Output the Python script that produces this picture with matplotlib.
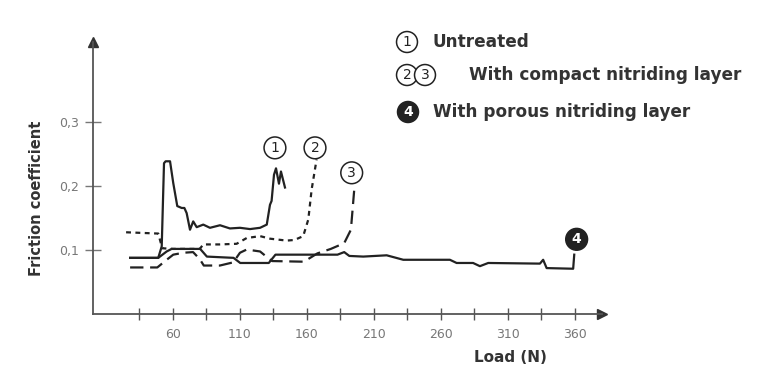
import matplotlib
matplotlib.use("Agg")
import matplotlib.pyplot as plt

# ---- data ----
x1 = [28, 49, 51.6, 53.3, 54.5, 57.8, 60.2, 63.2, 66.5, 68.5, 70.2, 72.7, 75.1, 77.7, 82.6, 87.6, 95.1, 102.5, 110, 117.5, 125, 130, 132.4, 133.6, 135.4, 136.9, 139.1, 140.6, 143.6]
y1 = [.087, .087, .105, .235, .238, .238, .204, .168, .165, .165, .157, .131, .144, .135, .139, .134, .138, .133, .134, .132, .134, .139, .170, .176, .217, .227, .203, .222, .197]

x2 = [25, 49, 52, 60, 80, 82.6, 95, 107.5, 115, 125, 132.4, 144.8, 150.7, 157.2, 161, 163.5, 167.2]
y2 = [.127, .125, .102, .101, .101, .108, .108, .109, .118, .121, .117, .114, .115, .121, .147, .194, .241]

x3 = [28, 48.3, 55.3, 60.2, 67.7, 75, 80, 83, 95, 105, 110, 115, 125, 132, 134, 157.7, 167.8, 177.8, 187.8, 192.8, 195.3]
y3 = [.072, .072, .084, .092, .095, .096, .085, .075, .075, .080, .095, .100, .097, .085, .082, .081, .094, .101, .110, .131, .194]

x4 = [28, 49, 55.3, 59, 80.3, 85.3, 105.2, 110.2, 131.5, 136.5, 182.8, 187.8, 191.6, 202, 219.5, 231.9, 266.7, 271.7, 284, 289.1, 295.3, 333.9, 336.3, 338.9, 358.7, 359.5]
y4 = [.087, .087, .097, .101, .101, .089, .087, .079, .079, .092, .092, .096, .090, .089, .091, .084, .084, .079, .079, .074, .079, .078, .084, .071, .070, .092]

label_nums = ["1", "2", "3", "4"]
label_x = [136.1, 166, 193.4, 361.3]
label_y = [.259, .259, .220, .116]

xticks_major = [60, 110, 160, 210, 260, 310, 360]
xticks_minor = [35, 85, 135, 185, 235, 285, 335]
yticks = [0.1, 0.2, 0.3]
ytick_labels = ["0,1", "0,2", "0,3"]

legend_texts = ["Untreated", "With compact nitriding layer", "With porous nitriding layer"]

# ---- figure ----
W, H = 768, 386
fig = plt.figure(figsize=(W / 100, H / 100), dpi=100)
ax = fig.add_axes([92.6 / W, 1 - 313.5 / H, (601.7 - 92.6) / W, (313.5 - 41.7) / H])
ax.set_xlim(0, 380)
ax.set_ylim(0, 0.425)

ink = "#222222"
lw = 1.6
ax.plot(x1, y1, color=ink, lw=lw, solid_joinstyle="round")
ax.plot(x2, y2, color=ink, lw=lw, dashes=(2.2, 2.0))
ax.plot(x3, y3, color=ink, lw=lw, dashes=(6, 3))
ax.plot(x4, y4, color=ink, lw=lw, solid_joinstyle="round")

for s in ["top", "right"]:
    ax.spines[s].set_visible(False)
for s in ["left", "bottom"]:
    ax.spines[s].set_color("#555555")
    ax.spines[s].set_linewidth(1.3)

# axis arrows
ax.plot([1], [0], marker=">", ms=6.5, color="#333333", transform=ax.transAxes, clip_on=False)
ax.plot([0], [1], marker="^", ms=6.5, color="#333333", transform=ax.transAxes, clip_on=False)

ax.set_xticks(xticks_major)
ax.set_xticks(xticks_minor, minor=True)
ax.set_xticklabels([str(v) for v in xticks_major])
ax.set_yticks(yticks)
ax.set_yticklabels(ytick_labels)
ax.tick_params(axis="x", which="both", direction="inout", length=9, width=1.0, color="#555555",
               labelsize=9, labelcolor="#777777", pad=6)
ax.tick_params(axis="y", which="both", direction="inout", length=11, width=1.0, color="#777777",
               labelsize=9, labelcolor="#777777", pad=4)

# circled curve labels
for n, lx, ly in zip(label_nums, label_x, label_y):
    filled = n == "4"
    ax.text(lx, ly, n, ha="center", va="center", fontsize=10, fontweight="bold" if filled else "normal",
            color="white" if filled else ink,
            bbox=dict(boxstyle="circle,pad=0.28", fc=ink if filled else "white", ec=ink, lw=1.1))

# axis titles
fig.text(37 / W, 1 - 198 / H, "Friction coefficient", rotation=90, ha="center", va="center",
         fontsize=10.5, fontweight="bold", color="#333333")
fig.text(510 / W, 1 - 357 / H, "Load (N)", ha="center", va="center",
         fontsize=11, fontweight="bold", color="#333333")

# legend (circled numbers + text)
def circ(xp, yp, n, filled=False):
    fig.text(xp / W, 1 - yp / H, n, ha="center", va="center", fontsize=10,
             fontweight="bold" if filled else "normal",
             color="white" if filled else ink,
             bbox=dict(boxstyle="circle,pad=0.25", fc=ink if filled else "white", ec=ink, lw=1.1))

circ(407, 42, "1")
circ(407, 75, "2")
circ(425, 75, "3")
circ(408, 112, "4", filled=True)
fs = 12.2
fig.text(433 / W, 1 - 42 / H, legend_texts[0], ha="left", va="center", fontsize=fs,
         fontweight="bold", color="#333333")
fig.text(469 / W, 1 - 75 / H, legend_texts[1], ha="left", va="center", fontsize=fs,
         fontweight="bold", color="#333333")
fig.text(433 / W, 1 - 112 / H, legend_texts[2], ha="left", va="center", fontsize=fs,
         fontweight="bold", color="#333333")

fig.savefig("out.png", dpi=100)
